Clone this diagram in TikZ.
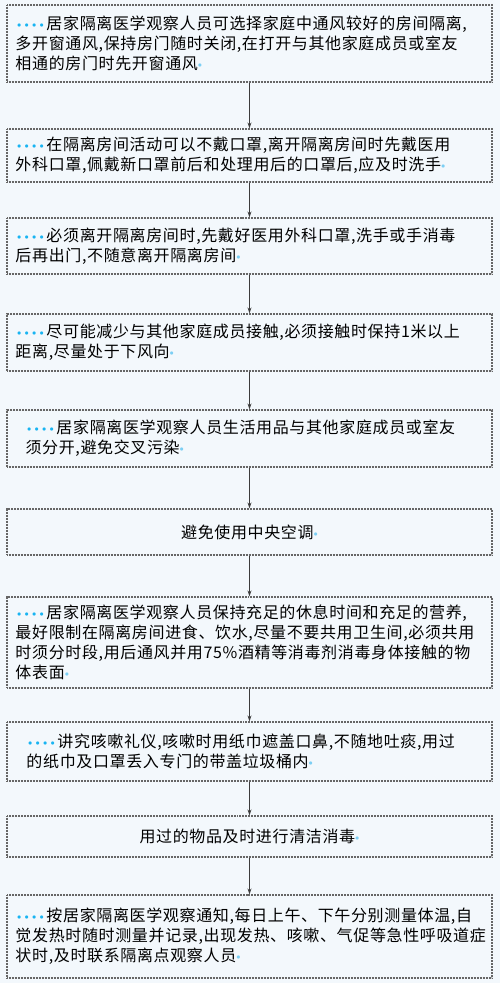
\documentclass[tikz,border=0pt]{standalone}
\usepackage{fontspec}
\setmainfont{Noto Sans CJK SC}[LetterSpace=4]
\usepackage{tikz}
\usetikzlibrary{arrows.meta,positioning}
\definecolor{pagebg}{HTML}{F3F8FC}
\definecolor{frame}{HTML}{666666}
\definecolor{leadcyan}{HTML}{18B4F2}
\definecolor{tailcyan}{HTML}{7CCFF4}
\definecolor{arrowgray}{HTML}{3C3C3C}
\newcommand{\onedot}{\makebox[7.5pt]{\raisebox{0.12em}{$\scriptscriptstyle\bullet$}}}
\newcommand{\leaddots}{\textcolor{leadcyan}{\onedot\onedot\onedot\onedot}\hspace{1pt}}
\newcommand{\taildot}{\textcolor{tailcyan}{\raisebox{0.12em}{$\scriptscriptstyle\bullet$}}}
\tikzset{
  stepbox/.style={
    rectangle, draw=frame, fill=pagebg, line width=1.3pt,
    dash pattern=on 1pt off 0.5pt,
    minimum width=485pt, minimum height=#1,
    text width=468pt, align=left, inner sep=0pt,
    font=\fontsize{16}{20}\selectfont
  },
  stepbox/.default=50pt,
  flowarrow/.style={
    -{Stealth[length=6pt,width=4pt]}, line width=0.9pt, color=arrowgray
  },
}
\begin{document}
\begin{tikzpicture}[x=1pt,y=-1pt]
  % page
  \useasboundingbox (0,0) rectangle (500,983);
  \fill[pagebg] (0,0) rectangle (500,983);

  % steps, top to bottom
  \node[stepbox=77pt] (ventroom) at (249.5,43.5)
    {\leaddots 居家隔离医学观察人员可选择家庭中通风较好的房间隔离,\\多开窗通风,保持房门随时关闭,在打开与其他家庭成员或室友\\相通的房门时先开窗通风\taildot};
  \node[stepbox=53pt] (maskroom) at (249.5,155.5)
    {\leaddots 在隔离房间活动可以不戴口罩,离开隔离房间时先戴医用\\外科口罩,佩戴新口罩前后和处理用后的口罩后,应及时洗手\taildot};
  \node[stepbox=56pt] (goingout) at (249.5,246)
    {\leaddots 必须离开隔离房间时,先戴好医用外科口罩,洗手或手消毒\\后再出门,不随意离开隔离房间\taildot};
  \node[stepbox=57pt] (contact) at (249.5,342.5)
    {\leaddots 尽可能减少与其他家庭成员接触,必须接触时保持1米以上\\距离,尽量处于下风向\taildot};
  \node[stepbox=57pt, text width=448pt] (items) at (249.5,438.5)
    {\leaddots 居家隔离医学观察人员生活用品与其他家庭成员或室友\\须分开,避免交叉污染\taildot};
  \node[stepbox=46pt, align=center] (aircon) at (249.5,532)
    {避免使用中央空调\taildot};
  \node[stepbox=91pt] (rest) at (249.5,642.5)
    {\leaddots 居家隔离医学观察人员保持充足的休息时间和充足的营养,\\最好限制在隔离房间进食、饮水,尽量不要共用卫生间,必须共用\\时须分时段,用后通风并用75\%酒精等消毒剂消毒身体接触的物\\体表面\taildot};
  \node[stepbox=59pt, text width=446pt] (cough) at (249.5,751.5)
    {\leaddots 讲究咳嗽礼仪,咳嗽时用纸巾遮盖口鼻,不随地吐痰,用过\\的纸巾及口罩丢入专门的带盖垃圾桶内\taildot};
  \node[stepbox=41pt, align=center] (disinfect) at (249.5,836.5)
    {用过的物品及时进行清洁消毒\taildot};
  \node[stepbox=83pt] (temperature) at (249.5,936.5)
    {\leaddots 按居家隔离医学观察通知,每日上午、下午分别测量体温,自\\觉发热时随时测量并记录,出现发热、咳嗽、气促等急性呼吸道症\\状时,及时联系隔离点观察人员\taildot};

  % arrows between steps
  \foreach \a/\b in {ventroom/maskroom,maskroom/goingout,goingout/contact,
                     contact/items,items/aircon,aircon/rest,rest/cough,
                     cough/disinfect,disinfect/temperature} {
    \draw[flowarrow] (\a) -- (\b);
  }
\end{tikzpicture}
\end{document}
